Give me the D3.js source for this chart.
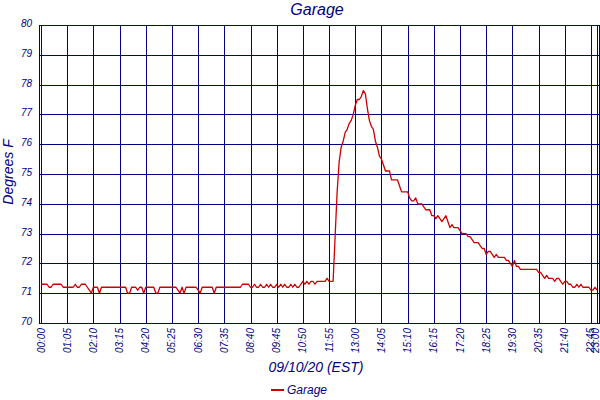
<!DOCTYPE html>
<html>
<head>
<meta charset="utf-8">
<script src="https://cdn.jsdelivr.net/npm/d3@7"></script>
<style>
body { margin: 0; background: #fff; }
text { font-family: "Liberation Sans", Arial, sans-serif; font-style: italic; fill: #000080; }
</style>
</head>
<body>
<div class="chart"></div>
<script>
const chartTitle = "Garage";
const xTitle = "09/10/20 (EST)";
const yTitle = "Degrees F";
const seriesName = "Garage";

const startTime = "00:00";
const stepMinutes = 5;

const yTicks = [70, 71, 72, 73, 74, 75, 76, 77, 78, 79, 80];
const xTickLabels = ["00:00", "01:05", "02:10", "03:15", "04:20", "05:25", "06:30", "07:35",
	"08:40", "09:45", "10:50", "11:55", "13:00", "14:05", "15:10", "16:15", "17:20", "18:25",
	"19:30", "20:35", "21:40", "22:45", "23:00"];

// one reading every 5 minutes, one row per hour
const garageTemps = [
	71.3, 71.3, 71.3, 71.3, 71.2, 71.2, 71.3, 71.3, 71.3, 71.3, 71.3, 71.2,
	71.2, 71.2, 71.2, 71.2, 71.2, 71.3, 71.2, 71.2, 71.3, 71.3, 71.3, 71.2,
	71.1, 71.0, 71.2, 71.2, 71.2, 71.0, 71.2, 71.2, 71.2, 71.2, 71.2, 71.2,
	71.2, 71.2, 71.2, 71.2, 71.2, 71.2, 71.2, 71.0, 71.0, 71.2, 71.2, 71.2,
	71.1, 71.2, 71.2, 71.0, 71.2, 71.2, 71.2, 71.2, 71.2, 71.0, 71.0, 71.2,
	71.2, 71.2, 71.2, 71.2, 71.2, 71.2, 71.2, 71.2, 71.1, 71.0, 71.2, 71.0,
	71.2, 71.2, 71.2, 71.2, 71.2, 71.2, 71.1, 71.0, 71.2, 71.2, 71.2, 71.2,
	71.2, 71.2, 71.0, 71.2, 71.2, 71.2, 71.2, 71.2, 71.2, 71.2, 71.2, 71.2,
	71.2, 71.2, 71.2, 71.2, 71.3, 71.3, 71.3, 71.3, 71.2, 71.2, 71.3, 71.2,
	71.2, 71.3, 71.2, 71.2, 71.3, 71.2, 71.3, 71.2, 71.2, 71.3, 71.2, 71.3,
	71.2, 71.3, 71.2, 71.2, 71.3, 71.2, 71.3, 71.2, 71.2, 71.3, 71.4, 71.3,
	71.4, 71.3, 71.4, 71.4, 71.3, 71.4, 71.4, 71.4, 71.4, 71.4, 71.5, 71.4,
	71.4, 71.4, 72.9, 74.4, 75.4, 75.9, 76.1, 76.4, 76.5, 76.7, 76.8, 77.0,
	77.3, 77.5, 77.5, 77.6, 77.8, 77.7, 77.2, 76.8, 76.6, 76.5, 76.1, 75.9,
	75.6, 75.5, 75.3, 75.1, 75.1, 75.1, 74.8, 74.8, 74.8, 74.8, 74.6, 74.4,
	74.4, 74.4, 74.4, 74.2, 74.1, 74.1, 74.2, 74.0, 74.0, 74.0, 73.9, 73.8,
	73.8, 73.8, 73.6, 73.6, 73.5, 73.6, 73.5, 73.4, 73.5, 73.6, 73.4, 73.2,
	73.3, 73.2, 73.2, 73.2, 73.1, 73.0, 73.0, 73.0, 72.9, 72.9, 72.8, 72.7,
	72.7, 72.7, 72.6, 72.5, 72.5, 72.3, 72.4, 72.4, 72.3, 72.2, 72.3, 72.2,
	72.2, 72.2, 72.2, 72.1, 72.1, 72.0, 71.9, 72.1, 71.9, 71.9, 71.8, 71.8,
	71.8, 71.8, 71.8, 71.8, 71.8, 71.8, 71.8, 71.7, 71.7, 71.6, 71.5, 71.6,
	71.5, 71.5, 71.5, 71.4, 71.5, 71.5, 71.4, 71.3, 71.4, 71.4, 71.3, 71.3,
	71.2, 71.2, 71.3, 71.2, 71.3, 71.2, 71.2, 71.2, 71.2, 71.1, 71.1, 71.2,
	71.1
];

function charting() {
	const width = 600;
	const height = 400;
	const parseTime = d3.timeParse("%H:%M");
	const t0 = parseTime(startTime);

	let data = garageTemps.map(function (v, i) {
		return { time: d3.timeMinute.offset(t0, i * stepMinutes), temp: v };
	});

	const x = d3.scaleTime()
		.domain([t0, parseTime(xTickLabels[xTickLabels.length - 1])])
		.range([41, 597]);
	const y = d3.scaleLinear()
		.domain([70, 80])
		.range([323, 25]);

	const svg = d3.select('.chart')
		.append('svg')
		.attr('width', width)
		.attr('height', height);

	const crisp = function (v) { return Math.round(v) + 0.5; };

	// horizontal grid
	svg.selectAll(".hgrid")
		.data(yTicks)
		.enter()
		.append("line")
		.attr("class", "hgrid")
		.attr("x1", 39.5)
		.attr("x2", 599.5)
		.attr("y1", function (d) { return crisp(y(d)); })
		.attr("y2", function (d) { return crisp(y(d)); })
		.attr("stroke", "#000080")
		.attr("stroke-width", 1);

	// vertical grid
	svg.selectAll(".vgrid")
		.data(xTickLabels)
		.enter()
		.append("line")
		.attr("class", "vgrid")
		.attr("x1", function (d) { return crisp(x(parseTime(d))); })
		.attr("x2", function (d) { return crisp(x(parseTime(d))); })
		.attr("y1", crisp(y(80)))
		.attr("y2", crisp(y(70)))
		.attr("stroke", "#000080")
		.attr("stroke-width", 1);

	// frame
	svg.append("rect")
		.attr("x", 39.5)
		.attr("y", crisp(y(80)))
		.attr("width", 560)
		.attr("height", crisp(y(70)) - crisp(y(80)))
		.attr("fill", "none")
		.attr("stroke", "#000080")
		.attr("stroke-width", 1);

	// temperature line
	const line = d3.line()
		.x(function (d) { return x(d.time); })
		.y(function (d) { return y(d.temp); });

	svg.append("path")
		.datum(data)
		.attr("d", line)
		.attr("fill", "none")
		.attr("stroke", "#cc0000")
		.attr("stroke-width", 1.3)
		.attr("stroke-linejoin", "round");

	// y tick labels
	svg.selectAll(".ylabel")
		.data(yTicks)
		.enter()
		.append("text")
		.attr("class", "ylabel")
		.text(function (d) { return d; })
		.attr("x", 32)
		.attr("y", function (d) { return y(d) + 2; })
		.attr("text-anchor", "end")
		.attr("font-size", 10);

	// x tick labels, rotated
	svg.selectAll(".xlabel")
		.data(xTickLabels)
		.enter()
		.append("text")
		.attr("class", "xlabel")
		.text(function (d) { return d; })
		.attr("transform", function (d) {
			let bx = Math.min(x(parseTime(d)) + 3.5, 598.5);
			return "translate(" + bx + ",328) rotate(-90)";
		})
		.attr("text-anchor", "end")
		.attr("font-size", 10);

	svg.append("text")
		.text(chartTitle)
		.attr("x", 317)
		.attr("y", 15)
		.attr("text-anchor", "middle")
		.attr("font-size", 16);

	svg.append("text")
		.text(xTitle)
		.attr("x", 316)
		.attr("y", 372)
		.attr("text-anchor", "middle")
		.attr("font-size", 14);

	svg.append("text")
		.text(yTitle)
		.attr("transform", "translate(13,172) rotate(-90)")
		.attr("text-anchor", "middle")
		.attr("font-size", 14);

	// legend
	svg.append("line")
		.attr("x1", 271)
		.attr("x2", 284)
		.attr("y1", 390)
		.attr("y2", 390)
		.attr("stroke", "#cc0000")
		.attr("stroke-width", 2);

	svg.append("text")
		.text(seriesName)
		.attr("x", 287)
		.attr("y", 394)
		.attr("font-size", 12);
}

charting();
</script>
</body>
</html>
